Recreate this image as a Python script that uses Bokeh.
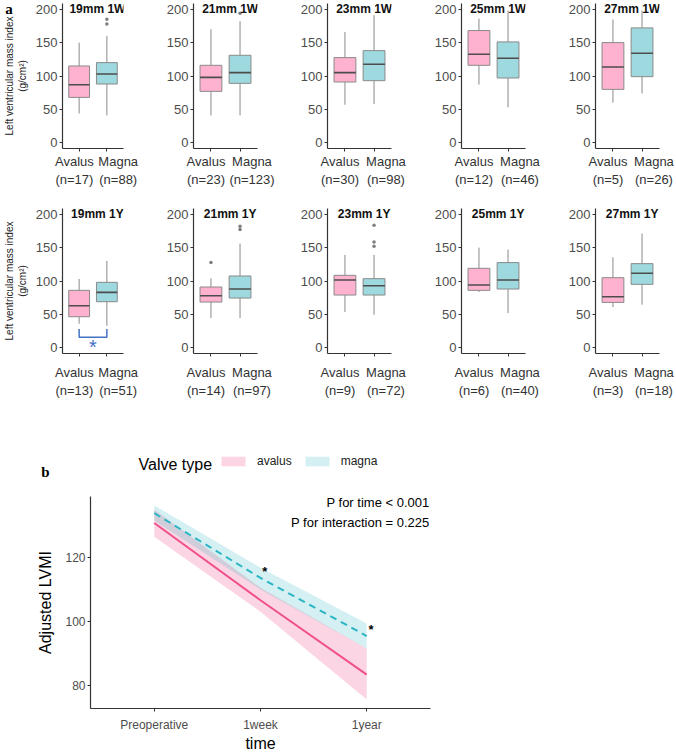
from bokeh.plotting import figure
from bokeh.layouts import row, column
from bokeh.models import Range1d, FixedTicker, Legend, LegendItem, LinearAxis
from bokeh.core.properties import value
from bokeh.embed import file_html
from bokeh.resources import INLINE

# ---------------- data: panel a (box plots) ----------------
titles = ["19mm 1W", "21mm 1W", "23mm 1W", "25mm 1W", "27mm 1W",
          "19mm 1Y", "21mm 1Y", "23mm 1Y", "25mm 1Y", "27mm 1Y"]
groups = ["Avalus", "Magna"]
avalus_n = [17, 23, 30, 12, 5, 13, 14, 9, 6, 3]
magna_n = [88, 123, 98, 46, 26, 51, 97, 72, 40, 18]

avalus_lo = [44, 41, 57, 87, 60, 36, 44.5, 53.5, 83.5, 61]
avalus_q1 = [68, 77, 91, 116, 80, 46.5, 68.5, 79, 86, 68]
avalus_med = [87, 98, 105, 132.5, 113.5, 63, 78, 101.5, 94, 76.5]
avalus_q3 = [115, 116, 127.5, 168, 150, 86, 91, 108.5, 119, 105]
avalus_hi = [150, 170, 166, 186, 184.5, 103, 104, 139, 150, 135.5]

magna_lo = [41, 41, 58, 53, 74, 33, 44.5, 49.5, 52, 64.5]
magna_q1 = [88, 89, 93, 97, 99, 69, 74.5, 79, 88, 95]
magna_med = [103, 105, 117.5, 126.5, 134, 83, 88, 93, 101.5, 111.5]
magna_q3 = [120, 131, 138, 151, 172, 98, 107.5, 103.5, 127.5, 126]
magna_hi = [160, 182, 191, 198, 198, 130, 156, 139, 147, 171]

outlier_panel = [0, 0, 1, 6, 6, 6, 7, 7, 7]
outlier_group = [2, 2, 2, 1, 2, 2, 2, 2, 2]
outlier_value = [185, 178, 194, 127.5, 182, 177, 183.5, 158.5, 152]

y_ticks_a = [0, 50, 100, 150, 200]
group_pos = [1, 2]
group_label_pos = [0.83, 2.41]

# ---------------- data: panel b (adjusted LVMI) ----------------
time_labels = ["Preoperative", "1week", "1year"]
time_pos = [1, 2, 3]
avalus_fit = [130.8, 106.6, 83.3]
avalus_lower = [126.5, 103.0, 75.5]
avalus_upper = [135.0, 110.5, 91.5]
magna_fit = [133.9, 113.6, 95.4]
magna_lower = [131.5, 110.0, 91.5]
magna_upper = [136.3, 116.8, 99.3]
y_ticks_b = [80, 100, 120]
star_time = [2, 3]
star_value = [115.6, 97.6]
p_texts = ["P for time < 0.001", "P for interaction = 0.225"]
legend_title = "Valve type"
legend_labels = ["avalus", "magna"]

FONT = "Liberation Sans"
PINK = "#FFB2CF"
CYAN = "#9DD9DF"
BOXLINE = "#8A8A8A"
AXIS = "#333333"
TICKLAB = "#4D4D4D"
PINK_LINE = "#F0508C"
CYAN_LINE = "#2BB5C4"


def style_axes(p):
    for ax in (p.xaxis[0], p.yaxis[0]):
        ax.axis_line_color = AXIS
        ax.axis_line_width = 1.2
        ax.major_tick_line_color = AXIS
        ax.major_tick_out = 3
        ax.major_tick_in = 0
        ax.minor_tick_line_color = None
        ax.major_label_text_font = FONT
        ax.major_label_text_color = TICKLAB
    p.xgrid.visible = False
    p.ygrid.visible = False
    p.outline_line_color = None


def box_panel(i, left, right, height, top, bottom, label_standoff, first):
    p = figure(width=left + 64 + right, height=height,
               x_range=Range1d(0.4, 2.6), y_range=Range1d(-8.5, 208.5),
               output_backend="svg", toolbar_location=None,
               min_border_left=left, min_border_right=right,
               min_border_top=top, min_border_bottom=bottom)
    style_axes(p)
    p.yaxis.ticker = FixedTicker(ticks=y_ticks_a)
    p.yaxis.major_label_text_font_size = "13px"
    p.yaxis.major_label_standoff = 2
    # tick marks at the box centres (no labels)
    p.xaxis.ticker = FixedTicker(ticks=group_pos)
    p.xaxis.major_label_overrides = {1: "", 2: ""}
    p.xaxis.major_label_text_font_size = "1px"
    p.xaxis.major_label_standoff = 0
    # category labels (two lines) as in the original layout
    lab_ax = LinearAxis(ticker=FixedTicker(ticks=group_label_pos),
                        major_label_overrides={
                            group_label_pos[0]: "%s\n(n=%d)" % (groups[0], avalus_n[i]),
                            group_label_pos[1]: "%s\n(n=%d)" % (groups[1], magna_n[i])},
                        axis_line_color=None, major_tick_line_color=None,
                        minor_tick_line_color=None, major_tick_out=0, major_tick_in=0,
                        major_label_standoff=label_standoff,
                        major_label_text_font=FONT, major_label_text_font_size="13px",
                        major_label_text_color="#333333")
    p.add_layout(lab_ax, "below")
    if first:
        p.yaxis.axis_label = "Left ventricular mass index\n(g/cm\u00b2)"
        p.yaxis.axis_label_text_font = FONT
        p.yaxis.axis_label_text_font_size = "10px"
        p.yaxis.axis_label_text_font_style = "normal"
        p.yaxis.axis_label_text_color = "#222222"
        p.yaxis.axis_label_standoff = 5

    lo = [avalus_lo[i], magna_lo[i]]
    q1 = [avalus_q1[i], magna_q1[i]]
    md = [avalus_med[i], magna_med[i]]
    q3 = [avalus_q3[i], magna_q3[i]]
    hi = [avalus_hi[i], magna_hi[i]]
    p.segment(x0=group_pos, y0=q3, x1=group_pos, y1=hi, line_color=BOXLINE, line_width=1)
    p.segment(x0=group_pos, y0=q1, x1=group_pos, y1=lo, line_color=BOXLINE, line_width=1)
    p.vbar(x=group_pos, width=0.75, bottom=q1, top=q3, fill_color=[PINK, CYAN],
           line_color=BOXLINE, line_width=1)
    p.segment(x0=[x - 0.375 for x in group_pos], y0=md, x1=[x + 0.375 for x in group_pos], y1=md,
              line_color="#4D4D4D", line_width=1.6)
    ox = [g for pn, g in zip(outlier_panel, outlier_group) if pn == i]
    oy = [v for pn, v in zip(outlier_panel, outlier_value) if pn == i]
    if ox:
        p.scatter(x=ox, y=oy, size=3.5, fill_color="#7F7F7F", line_color=None)
    p.text(x=[1.66], y=[201], text=[titles[i]], text_font=value(FONT),
           text_font_size="12px", text_font_style="bold", text_color="#111111",
           text_align="center", text_baseline="middle")
    return p


top_figs = []
bot_figs = []
for k in range(5):
    left = 59 if k == 0 else 47
    right = 16 if k == 4 else 23
    top_figs.append(box_panel(k, left, right, 190, 3, 42, 2, k == 0))
    bot_figs.append(box_panel(k + 5, left, right, 210, 18, 46, 8, k == 0))

# panel letter "a" (drawn on top, outside the frame)
top_figs[0].text(x=[0.4 - 60 / 29.1], y=[201], text=["a"], text_font=value("Liberation Serif"),
                 text_font_size="15px", text_font_style="bold", text_color="#000000",
                 text_baseline="middle", level="overlay")

# significance bracket in 19mm 1Y
pb = bot_figs[0]
pb.line(x=[1, 1, 2, 2], y=[28, 16, 16, 28], line_color="#4472C4", line_width=1.5)
pb.text(x=[1.5], y=[1], text=["*"], text_font=value(FONT), text_font_size="20px",
        text_color="#4472C4", text_align="center", text_baseline="middle")

# ---------------- panel b header: legend + letter ----------------
# (frame aligned with panel b's frame; the key renderers sit outside the visible range)
head = figure(width=675, height=80, x_range=Range1d(90, 430), y_range=Range1d(-80, 0),
              output_backend="svg", toolbar_location=None,
              min_border_left=90, min_border_right=245, min_border_top=0, min_border_bottom=0)
head.axis.visible = False
head.xgrid.visible = False
head.ygrid.visible = False
head.outline_line_color = None
key_a = head.varea(x=time_pos, y1=avalus_lower, y2=avalus_upper, fill_color=PINK_LINE, fill_alpha=0.24)
key_m = head.varea(x=time_pos, y1=magna_lower, y2=magna_upper, fill_color=CYAN_LINE, fill_alpha=0.2)
legend = Legend(items=[LegendItem(label=legend_labels[0], renderers=[key_a]),
                       LegendItem(label=legend_labels[1], renderers=[key_m])],
                orientation="horizontal", location=(128, 12),
                border_line_color=None, background_fill_alpha=0,
                padding=0, margin=0, spacing=10, label_standoff=9,
                glyph_width=30, glyph_height=12, label_height=12,
                label_text_font=FONT, label_text_font_size="12px", label_text_color="#222222")
head.add_layout(legend)
head.text(x=[138], y=[-64], text=[legend_title], text_font=value(FONT), text_font_size="16px",
          text_color="#000000", text_baseline="middle")
head.text(x=[45], y=[-71], text=["b"], text_font=value("Liberation Serif"), text_font_size="15px",
          text_font_style="bold", text_color="#000000", text_align="center", text_baseline="middle",
          level="overlay")

# ---------------- panel b ----------------
pbig = figure(width=675, height=274, x_range=Range1d(0.4, 3.6), y_range=Range1d(72.7, 139.1),
              output_backend="svg", toolbar_location=None,
              min_border_left=90, min_border_right=245, min_border_top=16, min_border_bottom=41)
style_axes(pbig)
pbig.yaxis.ticker = FixedTicker(ticks=y_ticks_b)
pbig.xaxis.ticker = FixedTicker(ticks=time_pos)
pbig.xaxis.major_label_overrides = {t: lab for t, lab in zip(time_pos, time_labels)}
pbig.xaxis.major_label_text_font_size = "12px"
pbig.yaxis.major_label_text_font_size = "12px"
pbig.xaxis.major_label_standoff = 6
pbig.yaxis.major_label_standoff = 2
pbig.xaxis.axis_label = "time"
pbig.yaxis.axis_label = "Adjusted LVMI"
for ax in (pbig.xaxis[0], pbig.yaxis[0]):
    ax.axis_label_text_font = FONT
    ax.axis_label_text_font_size = "16px"
    ax.axis_label_text_font_style = "normal"
    ax.axis_label_text_color = "#000000"
pbig.xaxis.axis_label_standoff = 0
pbig.yaxis.axis_label_standoff = 8

pbig.varea(x=time_pos, y1=avalus_lower, y2=avalus_upper, fill_color=PINK_LINE, fill_alpha=0.24)
pbig.varea(x=time_pos, y1=magna_lower, y2=magna_upper, fill_color=CYAN_LINE, fill_alpha=0.2)
pbig.line(x=time_pos, y=avalus_fit, line_color=PINK_LINE, line_width=2)
pbig.line(x=time_pos, y=magna_fit, line_color=CYAN_LINE, line_width=2, line_dash="7 5")
pbig.text(x=[t + 0.04 for t in star_time], y=star_value, text=["*", "*"], text_font=value(FONT),
          text_font_size="13px", text_font_style="bold", text_color="#000000",
          text_align="center", text_baseline="middle")
pbig.text(x=[3.59, 3.59], y=[137.3, 130.9], text=p_texts, text_font=value(FONT),
          text_font_size="13px", text_color="#000000", text_align="right", text_baseline="middle")

layout = column(row(*top_figs, spacing=0), row(*bot_figs, spacing=0), head, pbig, spacing=0)
open("out.html", "w").write(file_html(layout, INLINE))
